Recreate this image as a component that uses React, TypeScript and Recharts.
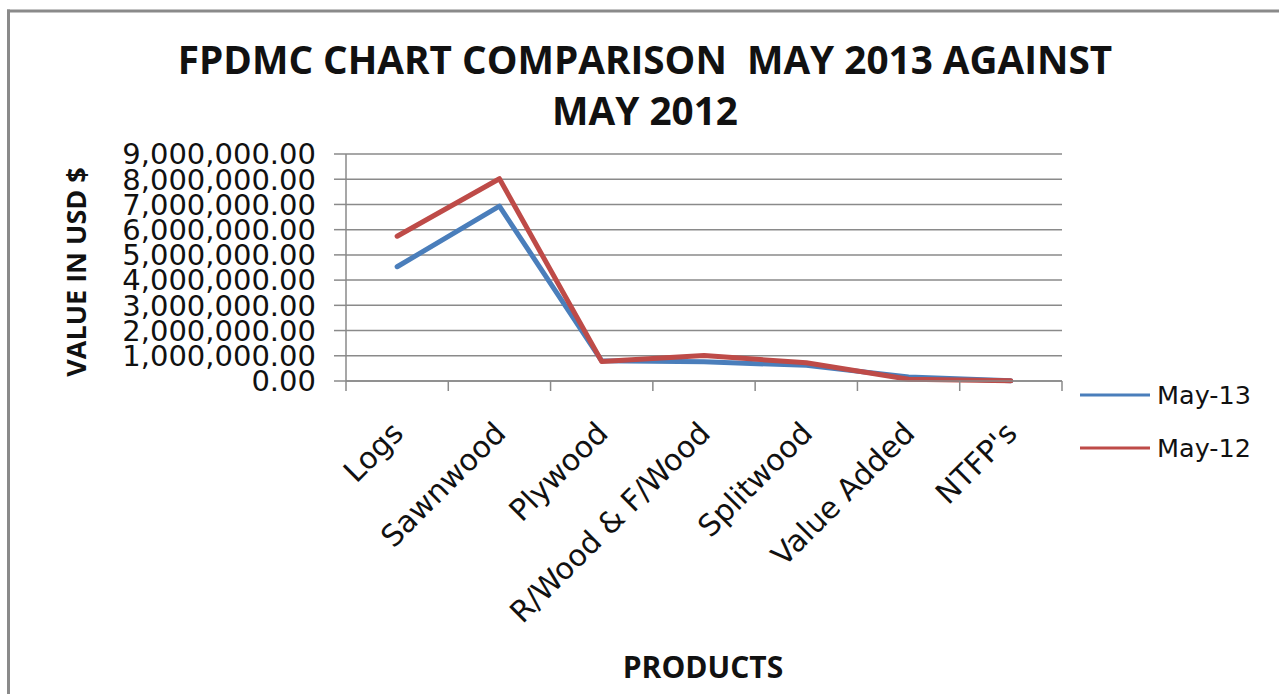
import React from "react";
import { LineChart, Line, XAxis, YAxis, CartesianGrid, Legend } from "recharts";

const CATEGORIES = ["Logs", "Sawnwood", "Plywood", "R/Wood & F/Wood", "Splitwood", "Value Added", "NTFP's"];
const MAY_13 = [4530000, 6930000, 800000, 760000, 620000, 160000, 8000];
const MAY_12 = [5740000, 8020000, 770000, 1010000, 720000, 70000, 5000];
const Y_TICKS = [0, 1000000, 2000000, 3000000, 4000000, 5000000, 6000000, 7000000, 8000000, 9000000];
const SERIES_NAMES = ["May-13", "May-12"];

const data = CATEGORIES.map((c, i) => ({ name: c, may13: MAY_13[i], may12: MAY_12[i] }));

const W = 1279;
const H = 694;
const PLOT_LEFT = 346;
const PLOT_RIGHT = 1062;
const PLOT_TOP = 154;
const PLOT_BOTTOM = 381;
const PLOT_W = PLOT_RIGHT - PLOT_LEFT;
const HALF_BAND = PLOT_W / CATEGORIES.length / 2;
const Y_AXIS_W = 300;
const X_AXIS_H = 30;
const GRAY = "#8a8a8a";
const BOLD_FONT = "'Open Sans', sans-serif";
const FONT = "'DejaVu Sans', sans-serif";
const BLUE = "#4a7ebb";
const RED = "#be4b48";

const fmt = (v: number) =>
  v.toLocaleString("en-US", { minimumFractionDigits: 2, maximumFractionDigits: 2 });

function XTick(props: any) {
  const { x, y, payload, index } = props;
  return (
    <g>
      <line x1={x - HALF_BAND} x2={x - HALF_BAND} y1={y} y2={y + 10} stroke={GRAY} strokeWidth={1.5} />
      {index === CATEGORIES.length - 1 && (
        <line x1={x + HALF_BAND} x2={x + HALF_BAND} y1={y} y2={y + 10} stroke={GRAY} strokeWidth={1.5} />
      )}
      <text
        transform={`translate(${x + 8},${y + 54}) rotate(-45)`}
        textAnchor="end"
        fontSize={30}
        fontFamily={FONT}
        fill="#111"
      >
        {payload.value}
      </text>
    </g>
  );
}

function LegendContent(props: any) {
  const items = [...(props.payload || [])].sort(
    (a: any, b: any) => SERIES_NAMES.indexOf(a.value) - SERIES_NAMES.indexOf(b.value)
  );
  return (
    <div>
      {items.map((p: any) => (
        <div key={p.value} style={{ display: "flex", alignItems: "center", height: 53 }}>
          <svg width={70} height={6} style={{ display: "block" }}>
            <line x1={0} x2={70} y1={3} y2={3} stroke={p.color} strokeWidth={3} />
          </svg>
          <span style={{ marginLeft: 7, fontFamily: FONT, fontSize: 25.5, color: "#111", lineHeight: "30px" }}>
            {p.value}
          </span>
        </div>
      ))}
    </div>
  );
}

export default function App() {
  return (
    <div style={{ position: "fixed", left: 0, top: 0, width: W, height: H, overflow: "hidden", background: "#fff" }}>
      <LineChart
        width={W}
        height={H}
        data={data}
        margin={{
          top: PLOT_TOP,
          right: W - PLOT_RIGHT,
          left: PLOT_LEFT - Y_AXIS_W,
          bottom: H - PLOT_BOTTOM - X_AXIS_H,
        }}
      >
        <CartesianGrid vertical={false} stroke={GRAY} strokeWidth={1.5} />
        <XAxis
          dataKey="name"
          interval={0}
          height={X_AXIS_H}
          padding={{ left: HALF_BAND, right: HALF_BAND }}
          axisLine={{ stroke: GRAY, strokeWidth: 1.5 }}
          tickLine={false}
          tickSize={0}
          tickMargin={0}
          tick={<XTick />}
        />
        <YAxis
          width={Y_AXIS_W}
          domain={[0, 9000000]}
          ticks={Y_TICKS}
          interval={0}
          tickFormatter={fmt}
          tickSize={12}
          tickMargin={18}
          axisLine={{ stroke: GRAY, strokeWidth: 1.5 }}
          tickLine={{ stroke: GRAY, strokeWidth: 1.5 }}
          tick={{ fontSize: 29, fontFamily: FONT, fill: "#111" }}
        />
        <Legend
          layout="vertical"
          align="center"
          verticalAlign="middle"
          wrapperStyle={{ left: 1080, top: 368, width: 200, height: 106 }}
          content={<LegendContent />}
        />
        <Line
          type="linear"
          dataKey="may13"
          name={SERIES_NAMES[0]}
          stroke={BLUE}
          strokeWidth={5}
          dot={false}
          strokeLinecap="round"
          strokeLinejoin="round"
          isAnimationActive={false}
        />
        <Line
          type="linear"
          dataKey="may12"
          name={SERIES_NAMES[1]}
          stroke={RED}
          strokeWidth={5}
          dot={false}
          strokeLinecap="round"
          strokeLinejoin="round"
          isAnimationActive={false}
        />
      </LineChart>
      <svg width={W} height={H} style={{ position: "absolute", left: 0, top: 0, pointerEvents: "none" }}>
        <line x1={7} x2={W} y1={11} y2={11} stroke={GRAY} strokeWidth={3} />
        <line x1={8.5} x2={8.5} y1={9.5} y2={H} stroke={GRAY} strokeWidth={3} />
        <text
          x={645}
          y={74}
          textAnchor="middle"
          fontFamily={BOLD_FONT}
          fontWeight={700}
          fontSize={38.7}
          fill="#111"
          xmlSpace="preserve"
          style={{ whiteSpace: "pre" }}
        >
          FPDMC CHART COMPARISON  MAY 2013 AGAINST
        </text>
        <text x={645} y={125} textAnchor="middle" fontFamily={BOLD_FONT} fontWeight={700} fontSize={38.7} fill="#111">
          MAY 2012
        </text>
        <text
          transform="translate(86,272) rotate(-90)"
          textAnchor="middle"
          fontFamily={BOLD_FONT}
          fontWeight={700}
          fontSize={27}
          fill="#111"
        >
          VALUE IN USD $
        </text>
        <text x={703} y={678} textAnchor="middle" fontFamily={BOLD_FONT} fontWeight={700} fontSize={30} fill="#111">
          PRODUCTS
        </text>
      </svg>
    </div>
  );
}
